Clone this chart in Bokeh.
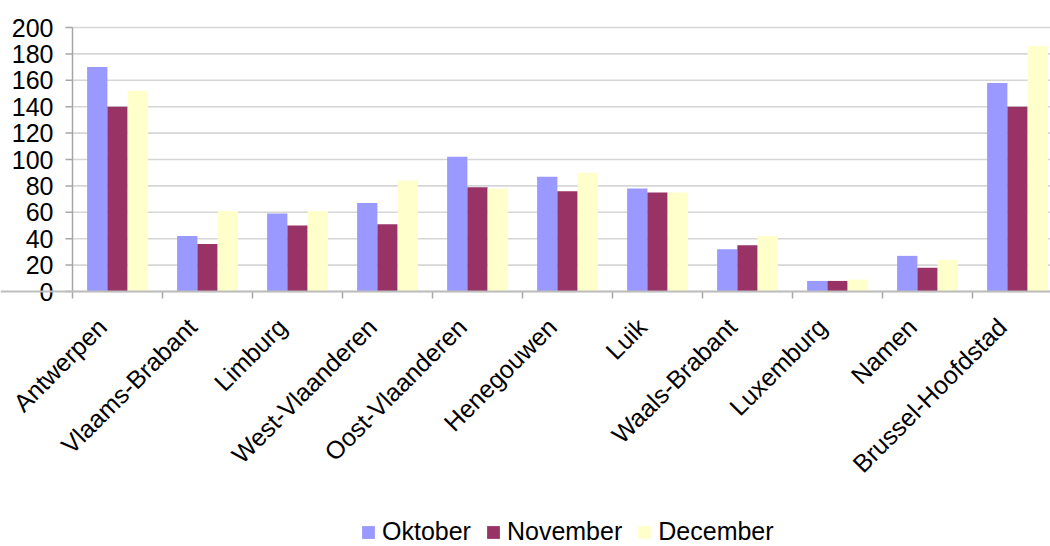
import numpy as np
from math import pi
from bokeh.plotting import figure
from bokeh.models import (ColumnDataSource, Range1d, FixedTicker, Legend, LegendItem, Span)
from bokeh.core.properties import value
from bokeh.embed import file_html
from bokeh.resources import INLINE

provinces = ["Antwerpen", "Vlaams-Brabant", "Limburg", "West-Vlaanderen",
             "Oost-Vlaanderen", "Henegouwen", "Luik", "Waals-Brabant",
             "Luxemburg", "Namen", "Brussel-Hoofdstad"]
oktober = [170, 42, 59, 67, 102, 87, 78, 32, 8, 27, 158]
november = [140, 36, 50, 51, 79, 76, 75, 35, 8, 18, 140]
december = [152, 61, 61, 84, 78, 90, 75, 42, 9, 24, 186]
series_names = ["Oktober", "November", "December"]
series_colors = ["#9999FF", "#993366", "#FFFFCC"]
y_ticks = [0, 20, 40, 60, 80, 100, 120, 140, 160, 180, 200]
y_tick_labels = [str(t) for t in y_ticks]

FONT = "Liberation Sans"
FS = "25px"
W, H = 1050, 546
AXIS_X, TOP = 72, 27                  # pixel position of the value axis / top gridline
cat_px = 90.0
px_per_unit = 264.0 / 200.0
n = len(provinces)
x_start = -0.5 - AXIS_X / cat_px
x_end = x_start + W / cat_px
y_max = 200 + TOP / px_per_unit
y_min = y_max - H / px_per_unit

p = figure(width=W, height=H, output_backend="svg", toolbar_location=None,
           x_range=Range1d(x_start, x_end), y_range=Range1d(y_min, y_max),
           x_axis_location=None, y_axis_location=None,
           min_border=0)
p.outline_line_color = None
p.background_fill_color = "white"
p.border_fill_color = "white"
p.xgrid.grid_line_color = None
p.ygrid.grid_line_color = None

axis_col = "#A6A6A6"
tick_x = 7 / cat_px
tick_y = 7 / px_per_unit
left = -0.5
yt = np.array(y_ticks, dtype=float)

# horizontal gridlines
p.segment(x0=np.full(len(yt), left), y0=yt, x1=np.full(len(yt), x_end), y1=yt,
          line_color="#D6D6D6", line_width=1.6)

# bars
bar_w = 0.225
offsets = [-bar_w, 0.0, bar_w]
idx = np.arange(n)
renderers = []
for vals, name, col, off in zip([oktober, november, december], series_names, series_colors, offsets):
    src = ColumnDataSource(dict(x=idx + off, top=vals))
    r = p.vbar(x="x", top="top", width=bar_w, bottom=0, source=src,
               fill_color=col, line_color=None)
    renderers.append((name, r))

# value axis
p.segment(x0=[left], y0=[y_ticks[0]], x1=[left], y1=[y_ticks[-1]],
          line_color=axis_col, line_width=1.5)
p.segment(x0=np.full(len(yt), left - tick_x), y0=yt, x1=np.full(len(yt), left), y1=yt,
          line_color=axis_col, line_width=1.5)
p.text(x=np.full(len(yt), left), y=yt, text=y_tick_labels, x_offset=-19,
       text_align="right", text_baseline="middle",
       text_font=value(FONT), text_font_size=value(FS), text_color="black")

# category axis at value 0
p.add_layout(Span(location=0, dimension="width", line_color="#BDBDBD", line_width=2))
bounds = np.arange(n + 1) - 0.5
p.segment(x0=bounds, y0=np.zeros(n + 1), x1=bounds, y1=np.full(n + 1, -tick_y),
          line_color=axis_col, line_width=1.5)
p.text(x=idx - 0.17, y=np.zeros(n), text=provinces, angle=pi / 4,
       y_offset=31, text_align="right", text_baseline="middle",
       text_font=value(FONT), text_font_size=value(FS), text_color="black")

legend = Legend(items=[LegendItem(label=nm, renderers=[r]) for nm, r in renderers],
                orientation="horizontal", location=(360, 0))
legend.label_text_font = FONT
legend.label_text_font_size = FS
legend.label_text_color = "black"
legend.glyph_width = 16
legend.glyph_height = 16
legend.label_standoff = 6
legend.spacing = 14
legend.padding = 0
legend.margin = 0
legend.border_line_color = None
legend.background_fill_alpha = 0
p.add_layout(legend, "center")

open("out.html", "w").write(file_html(p, INLINE))
